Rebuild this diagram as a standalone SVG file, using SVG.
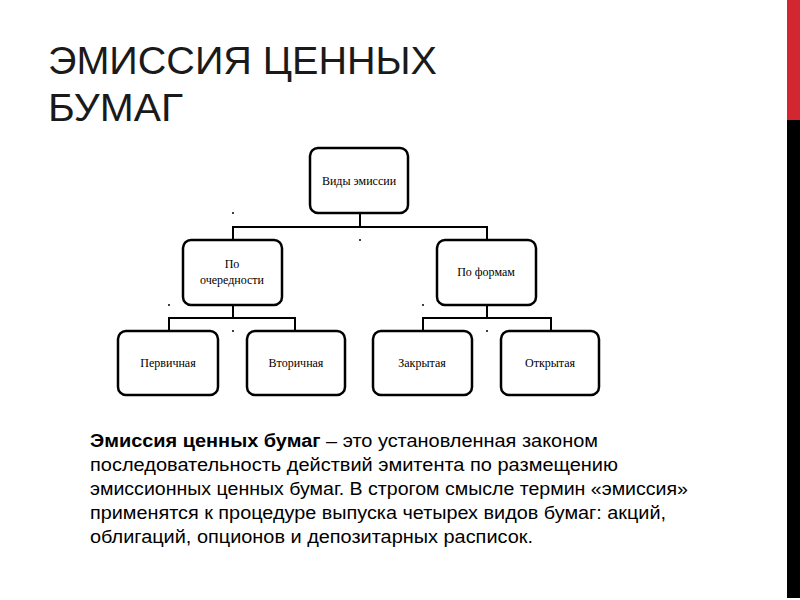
<svg xmlns="http://www.w3.org/2000/svg" width="800" height="600" viewBox="0 0 800 600">
<style>
.b{fill:#fff;stroke:#000;stroke-width:2.5}
.c{fill:none;stroke:#000;stroke-width:2}
.t{font-family:"Liberation Serif",serif;font-size:12px;text-anchor:middle}
.p{font-family:"Liberation Sans",Arial,sans-serif;font-size:17.5px}
.h{font-family:"Liberation Sans",Arial,sans-serif;font-size:38px;fill:#1a1a1a}
</style>
<rect width="800" height="600" fill="#fff"/>
<rect x="787" y="0" width="13" height="120" fill="#d22630"/>
<rect x="787" y="120" width="13" height="478" fill="#000"/>
<text class="h" x="48" y="74" textLength="389" lengthAdjust="spacingAndGlyphs">ЭМИССИЯ ЦЕННЫХ</text>
<text class="h" x="48" y="121" textLength="135" lengthAdjust="spacingAndGlyphs">БУМАГ</text>
<g id="connectors">
<path class="c" d="M360 213V227M233 240V227H487V240M233 305V318M169 331V318H295V331M487 305V318M423 331V318H551V331"/>
</g>
<g id="n0"><rect class="b" x="310" y="148" width="98" height="65" rx="8"/><text class="t" x="359" y="185">Виды эмиссии</text></g>
<g id="n1"><rect class="b" x="183" y="240" width="99" height="65" rx="8"/><text class="t" x="232" y="268">По</text><text class="t" x="232" y="284">очередности</text></g>
<g id="n2"><rect class="b" x="437" y="240" width="99" height="65" rx="8"/><text class="t" x="486" y="276">По формам</text></g>
<g id="n3"><rect class="b" x="118" y="331" width="100" height="64" rx="8"/><text class="t" x="168" y="367">Первичная</text></g>
<g id="n4"><rect class="b" x="247" y="331" width="98" height="64" rx="8"/><text class="t" x="296" y="367">Вторичная</text></g>
<g id="n5"><rect class="b" x="373" y="331" width="99" height="64" rx="8"/><text class="t" x="422" y="367">Закрытая</text></g>
<g id="n6"><rect class="b" x="501" y="331" width="98" height="64" rx="8"/><text class="t" x="550" y="367">Открытая</text></g>
<g fill="#000"><circle cx="233" cy="213" r="1"/><circle cx="360" cy="240" r="1"/><circle cx="169" cy="305" r="1"/><circle cx="233" cy="331" r="1"/><circle cx="423" cy="305" r="1"/><circle cx="487" cy="331" r="1"/></g>
<g class="p">
<text x="90" y="447" textLength="508" lengthAdjust="spacingAndGlyphs"><tspan font-weight="bold">Эмиссия ценных бумаг</tspan> – это установленная законом</text>
<text x="90" y="471" textLength="528" lengthAdjust="spacingAndGlyphs">последовательность действий эмитента по размещению</text>
<text x="90" y="495" textLength="598" lengthAdjust="spacingAndGlyphs">эмиссионных ценных бумаг. В строгом смысле термин «эмиссия»</text>
<text x="90" y="519" textLength="576" lengthAdjust="spacingAndGlyphs">применятся к процедуре выпуска четырех видов бумаг: акций,</text>
<text x="90" y="543" textLength="443" lengthAdjust="spacingAndGlyphs">облигаций, опционов и депозитарных расписок.</text>
</g>
</svg>
